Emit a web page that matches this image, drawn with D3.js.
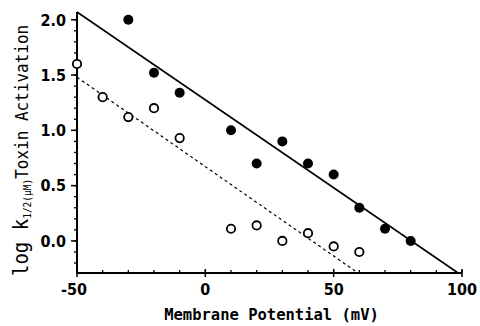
<!DOCTYPE html>
<html>
<head>
<meta charset="utf-8">
<script src="https://cdn.jsdelivr.net/npm/d3@7"></script>
<style>
  body { margin: 0; background: #fff; }
  svg { display: block; }
  text { fill: #000; }
</style>
</head>
<body>
<svg id="chart" width="480" height="326"></svg>
<script>
// membrane potential (mV) and log k1/2 values
const filledX = [-30, -20, -10, 10, 20, 30, 40, 50, 60, 70, 80];
const filledY = [2.0, 1.52, 1.34, 1.0, 0.70, 0.90, 0.70, 0.60, 0.30, 0.11, 0.0];
const openX = [-50, -40, -30, -20, -10, 10, 20, 30, 40, 50, 60];
const openY = [1.60, 1.30, 1.12, 1.20, 0.93, 0.11, 0.14, 0.0, 0.07, -0.05, -0.10];
// regression lines, endpoints
const solidFitX = [-50, 98.5];
const solidFitY = [2.07, -0.29];
const dashFitX = [-50, 59.5];
const dashFitY = [1.48, -0.29];
const xTicks = [-50, 0, 50, 100];
const yTicks = [0.0, 0.5, 1.0, 1.5, 2.0];

const svg = d3.select("#chart");
const x = d3.scaleLinear().domain([-50, 100]).range([77, 462]);
const y = d3.scaleLinear().domain([-0.29, 2.07]).range([273, 12]);

const tickFont = "'DejaVu Sans Condensed', 'DejaVu Sans', sans-serif";
const labelFont = "'DejaVu Sans Mono', monospace";

// y axis
const yAxis = svg.append("g").attr("transform", `translate(${x(-50)},0)`);
yAxis.append("line")
    .attr("y1", y(-0.29)).attr("y2", y(2.07))
    .attr("stroke", "#000").attr("stroke-width", 2);
yAxis.selectAll("line.minor")
    .data(d3.range(-2, 21).map(d => d / 10))
    .join("line").attr("class", "minor")
    .attr("x1", -3).attr("x2", 0)
    .attr("y1", d => y(d)).attr("y2", d => y(d))
    .attr("stroke", "#000").attr("stroke-width", 1.3);
yAxis.selectAll("line.major")
    .data(yTicks)
    .join("line").attr("class", "major")
    .attr("x1", -6).attr("x2", 0)
    .attr("y1", d => y(d)).attr("y2", d => y(d))
    .attr("stroke", "#000").attr("stroke-width", 1.5);
yAxis.selectAll("text")
    .data(yTicks)
    .join("text")
    .attr("x", -11).attr("y", d => y(d))
    .attr("dy", "0.36em")
    .attr("text-anchor", "end")
    .style("font-family", tickFont)
    .style("font-weight", "bold")
    .style("font-size", "16px")
    .text(d => d3.format(".1f")(d));

// x axis
const xAxis = svg.append("g").attr("transform", `translate(0,${y(-0.29)})`);
xAxis.append("line")
    .attr("x1", x(-50)).attr("x2", x(100))
    .attr("stroke", "#000").attr("stroke-width", 2);
xAxis.selectAll("line.minor")
    .data(d3.range(-50, 101, 10))
    .join("line").attr("class", "minor")
    .attr("x1", d => x(d)).attr("x2", d => x(d))
    .attr("y1", -3).attr("y2", 0)
    .attr("stroke", "#000").attr("stroke-width", 1.3);
xAxis.selectAll("line.major")
    .data(xTicks)
    .join("line").attr("class", "major")
    .attr("x1", d => x(d)).attr("x2", d => x(d))
    .attr("y1", -4).attr("y2", 4)
    .attr("stroke", "#000").attr("stroke-width", 1.5);
xAxis.selectAll("text")
    .data(xTicks)
    .join("text")
    .attr("x", d => x(d) - (d < 0 ? 3 : 0)).attr("y", 22)
    .attr("text-anchor", "middle")
    .style("font-family", tickFont)
    .style("font-weight", "bold")
    .style("font-size", "16px")
    .text(d => d);

// axis titles
svg.append("text")
    .attr("x", x(25) + 2).attr("y", 320)
    .attr("text-anchor", "middle")
    .style("font-family", labelFont)
    .style("font-weight", "bold")
    .style("font-size", "15.5px")
    .text("Membrane Potential (mV)");

const yTitle = svg.append("text")
    .attr("transform", "translate(28,276) rotate(-90) scale(1,1.15)")
    .attr("text-anchor", "start")
    .style("font-family", labelFont);
yTitle.append("tspan").style("font-size", "19px").text("log k");
yTitle.append("tspan").attr("dy", 3).style("font-size", "9.5px").text("1/2(μM)");
yTitle.append("tspan").attr("dy", -3).style("font-size", "16px").text("Toxin Activation");

// fit lines
const line = d3.line().x(d => x(d[0])).y(d => y(d[1]));
svg.append("path")
    .attr("d", line(d3.zip(solidFitX, solidFitY)))
    .attr("fill", "none").attr("stroke", "#000").attr("stroke-width", 1.6);
svg.append("path")
    .attr("d", line(d3.zip(dashFitX, dashFitY)))
    .attr("fill", "none").attr("stroke", "#000").attr("stroke-width", 1.2)
    .attr("stroke-dasharray", "3,3");

// points
svg.append("g").selectAll("circle")
    .data(d3.zip(openX, openY))
    .join("circle")
    .attr("cx", d => x(d[0])).attr("cy", d => y(d[1]))
    .attr("r", 4.2)
    .attr("fill", "#fff").attr("stroke", "#000").attr("stroke-width", 1.8);
svg.append("g").selectAll("circle")
    .data(d3.zip(filledX, filledY))
    .join("circle")
    .attr("cx", d => x(d[0])).attr("cy", d => y(d[1]))
    .attr("r", 5)
    .attr("fill", "#000");
</script>
</body>
</html>
